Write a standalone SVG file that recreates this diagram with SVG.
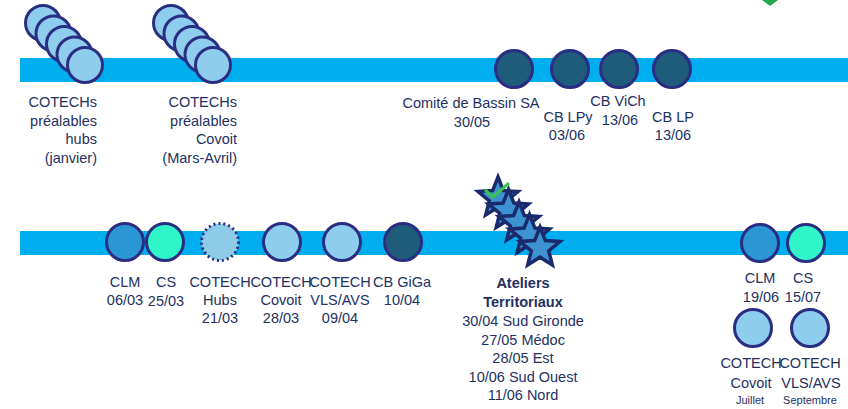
<svg xmlns="http://www.w3.org/2000/svg" xmlns:xlink="http://www.w3.org/1999/xlink" width="848" height="409" viewBox="0 0 848 409">
<style>
text{font-family:"Liberation Sans",Arial,sans-serif;font-size:14.5px;fill:#233062;}
.m{text-anchor:middle;}
.e{text-anchor:end;}
.b{font-weight:bold;}
.s{font-size:11px;}
.band{fill:#00aeef;}
.c{stroke:#2a2e82;stroke-width:3;}
.lb{fill:#8fcdee;}
.dk{fill:#1f5b7b;}
.clm{fill:#2a97d4;}
.cs{fill:#2ff5c9;}
.dot{fill:#8ecbe9;stroke:#2a2e82;stroke-width:3;stroke-dasharray:2 3;}
.star{fill:#3d92d2;stroke:#1b2a6b;stroke-width:3.5;stroke-linejoin:miter;}
</style>
<defs>
<polygon id="star" points="0,-21 5.4,-7.4 19.97,-6.49 8.7,2.83 12.34,16.99 0,9.15 -12.34,16.99 -8.7,2.83 -19.97,-6.49 -5.4,-7.4"/>
</defs>
<rect width="848" height="409" fill="#ffffff"/>
<g id="timelines">
<rect class="band" x="20" y="58" width="828" height="24"/>
<rect class="band" x="20" y="231" width="828" height="24"/>
</g>
<g id="connectors"></g>
<polygon points="762,0 778,0 770,6" fill="#22a84a"/>
<g id="cotechs-hubs">
<circle class="c lb" cx="43" cy="23" r="17.5"/>
<circle class="c lb" cx="53.5" cy="33.5" r="17.5"/>
<circle class="c lb" cx="64" cy="44" r="17.5"/>
<circle class="c lb" cx="74.5" cy="54.5" r="17.5"/>
<circle class="c lb" cx="85" cy="65" r="17.5"/>
<text class="e" x="97" y="107">COTECHs</text>
<text class="e" x="97" y="125.5">préalables</text>
<text class="e" x="97" y="144">hubs</text>
<text class="e" x="97" y="162.5">(janvier)</text>
</g>
<g id="cotechs-covoit">
<circle class="c lb" cx="171" cy="23" r="17.5"/>
<circle class="c lb" cx="181.5" cy="33.5" r="17.5"/>
<circle class="c lb" cx="192" cy="44" r="17.5"/>
<circle class="c lb" cx="202.5" cy="54.5" r="17.5"/>
<circle class="c lb" cx="213" cy="65" r="17.5"/>
<text class="e" x="237" y="107">COTECHs</text>
<text class="e" x="237" y="125.5">préalables</text>
<text class="e" x="237" y="144">Covoit</text>
<text class="e" x="237" y="162.5">(Mars-Avril)</text>
</g>
<g id="comite-bassin">
<circle class="c dk" cx="514" cy="69" r="18.5"/>
<text class="m" x="471" y="108">Comité de Bassin SA</text>
<text class="m" x="472" y="127">30/05</text>
</g>
<g id="cb-lpy">
<circle class="c dk" cx="570" cy="69" r="18.5"/>
<text class="m" x="568" y="122">CB LPy</text>
<text class="m" x="567" y="140">03/06</text>
</g>
<g id="cb-vich">
<circle class="c dk" cx="619" cy="69" r="18.5"/>
<text class="m" x="618" y="106">CB ViCh</text>
<text class="m" x="620" y="125">13/06</text>
</g>
<g id="cb-lp">
<circle class="c dk" cx="672" cy="69" r="18.5"/>
<text class="m" x="673" y="122">CB LP</text>
<text class="m" x="673" y="140">13/06</text>
</g>
<g id="clm-0603">
<circle class="c clm" cx="125" cy="242" r="18.5"/>
<text class="m" x="125" y="287">CLM</text>
<text class="m" x="125" y="305">06/03</text>
</g>
<g id="cs-2503">
<circle class="c cs" cx="165" cy="242" r="18.5"/>
<text class="m" x="166" y="287">CS</text>
<text class="m" x="166" y="306">25/03</text>
</g>
<g id="cotech-hubs">
<circle class="dot" cx="220" cy="242" r="18.5"/>
<text class="m" x="220" y="287">COTECH</text>
<text class="m" x="220" y="305">Hubs</text>
<text class="m" x="220" y="323">21/03</text>
</g>
<g id="cotech-covoit">
<circle class="c lb" cx="282" cy="242" r="18.5"/>
<text class="m" x="281" y="287">COTECH</text>
<text class="m" x="281" y="305">Covoit</text>
<text class="m" x="281" y="323">28/03</text>
</g>
<g id="cotech-vls">
<circle class="c lb" cx="342" cy="242" r="18.5"/>
<text class="m" x="340" y="287">COTECH</text>
<text class="m" x="340" y="305">VLS/AVS</text>
<text class="m" x="340" y="323">09/04</text>
</g>
<g id="cb-giga">
<circle class="c dk" cx="403" cy="242" r="18.5"/>
<text class="m" x="402" y="287">CB GiGa</text>
<text class="m" x="402" y="305">10/04</text>
</g>
<g id="ateliers">
<use xlink:href="#star" href="#star" class="star" x="498" y="198"/>
<use xlink:href="#star" href="#star" class="star" x="508.5" y="210.5"/>
<use xlink:href="#star" href="#star" class="star" x="519" y="223"/>
<use xlink:href="#star" href="#star" class="star" x="529.5" y="235.5"/>
<use xlink:href="#star" href="#star" class="star" x="540" y="248"/>
<polyline points="485,190 493,197 509,183" fill="none" stroke="#3cc14e" stroke-width="3"/>
<text class="m b" x="523" y="288">Ateliers</text>
<text class="m b" x="523" y="307">Territoriaux</text>
<text class="m" x="523" y="326">30/04 Sud Gironde</text>
<text class="m" x="523" y="345">27/05 Médoc</text>
<text class="m" x="523" y="363">28/05 Est</text>
<text class="m" x="523" y="382">10/06 Sud Ouest</text>
<text class="m" x="523" y="400">11/06 Nord</text>
</g>
<g id="clm-1906">
<circle class="c clm" cx="760" cy="243" r="18.5"/>
<text class="m" x="760" y="283">CLM</text>
<text class="m" x="761" y="302">19/06</text>
</g>
<g id="cs-1507">
<circle class="c cs" cx="806" cy="243" r="18.5"/>
<text class="m" x="803" y="283">CS</text>
<text class="m" x="803" y="302">15/07</text>
</g>
<g id="cotech-covoit-juillet">
<circle class="c lb" cx="753" cy="328" r="18.5"/>
<text class="m" x="751" y="368">COTECH</text>
<text class="m" x="751" y="388">Covoit</text>
<text class="m s" x="750" y="404">Juillet</text>
</g>
<g id="cotech-vls-septembre">
<circle class="c lb" cx="810" cy="328" r="18.5"/>
<text class="m" x="810" y="368">COTECH</text>
<text class="m" x="811" y="388">VLS/AVS</text>
<text class="m s" x="810" y="404">Septembre</text>
</g>
</svg>
